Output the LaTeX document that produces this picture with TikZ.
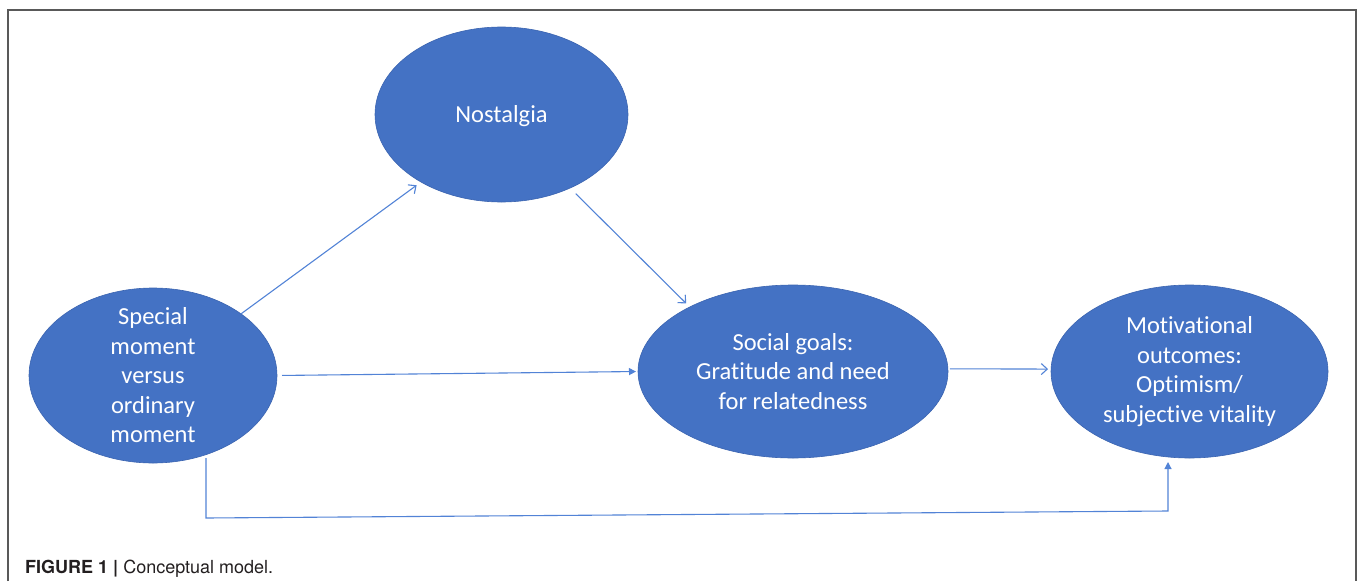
\documentclass[tikz,border=0pt]{standalone}
\usepackage{fontspec}
\setmainfont[Ligatures=NoCommon]{Carlito}
\newfontfamily\capfont{TeX Gyre Heros}
\usetikzlibrary{shapes.geometric,arrows.meta}
\definecolor{officeblue}{HTML}{4472C4}
\definecolor{rimblue}{HTML}{3B64B0}
\definecolor{linkblue}{HTML}{5283D6}
\definecolor{capgray}{HTML}{231F20}

\begin{document}
\begin{tikzpicture}[x=1pt,y=-1pt,
  bubble/.style={ellipse,draw=rimblue,fill=officeblue,line width=.6pt,inner sep=0pt,outer sep=0pt},
  txt/.style={text=white,align=center,font=\fontsize{24.5}{29.5}\selectfont},
  link/.style={draw=linkblue,line width=1.1pt,-{Straight Barb[length=6pt,width=11pt]}},
  solid/.style={draw=linkblue,line width=1.1pt,-{Triangle[length=7pt,width=7pt]}},
  frame/.style={draw=black!65,line width=1.8pt}]
  \useasboundingbox (0,0) rectangle (1357,581);
  \draw[frame] (8,581) -- (8,10) -- (1356,10) -- (1356,581);
  % the four constructs
  \node[bubble,minimum width=253pt,minimum height=175pt,
    label={[txt,yshift=-2pt]center:Nostalgia}] (nos) at (501.5,114.5) {};
  \node[bubble,minimum width=248pt,minimum height=175pt,
    label={[txt]center:{Special\\moment\\versus\\ordinary\\moment}}] (sp) at (153,375.5) {};
  \node[bubble,minimum width=310pt,minimum height=173pt,
    label={[txt]center:{Social goals:\\Gratitude and need\\for relatedness}}] (soc) at (793,371.5) {};
  \node[bubble,minimum width=277pt,minimum height=173pt,
    label={[txt]center:{Motivational\\outcomes:\\Optimism/\\subjective vitality}}] (mot) at (1189.5,371.5) {};
  % paths
  \draw[link,shorten >=5.5pt] (sp.35.5) -- (nos.220.2);
  \draw[link,shorten <=8pt,shorten >=5pt] (nos.-47.2) -- (soc.148.6);
  \draw[solid,shorten <=5pt,shorten >=2pt] (sp.east) -- (soc.west);
  \draw[link,shorten <=2pt,shorten >=3pt] (soc.1) -- (mot.179);
  \draw[solid] ([xshift=53pt,yshift=5pt]sp.south) -- ++(0,60)
    -- ([xshift=-21.5pt,yshift=-53pt]mot.south) -- ([xshift=-21.5pt,yshift=-4pt]mot.south);
  % caption
  \node[anchor=base west,text=capgray,inner sep=0pt,
    font=\capfont\fontsize{18}{22}\selectfont] (cap) at (25,573)
    {\textbf{FIGURE 1 |} Conceptual model.};
\end{tikzpicture}
\end{document}
